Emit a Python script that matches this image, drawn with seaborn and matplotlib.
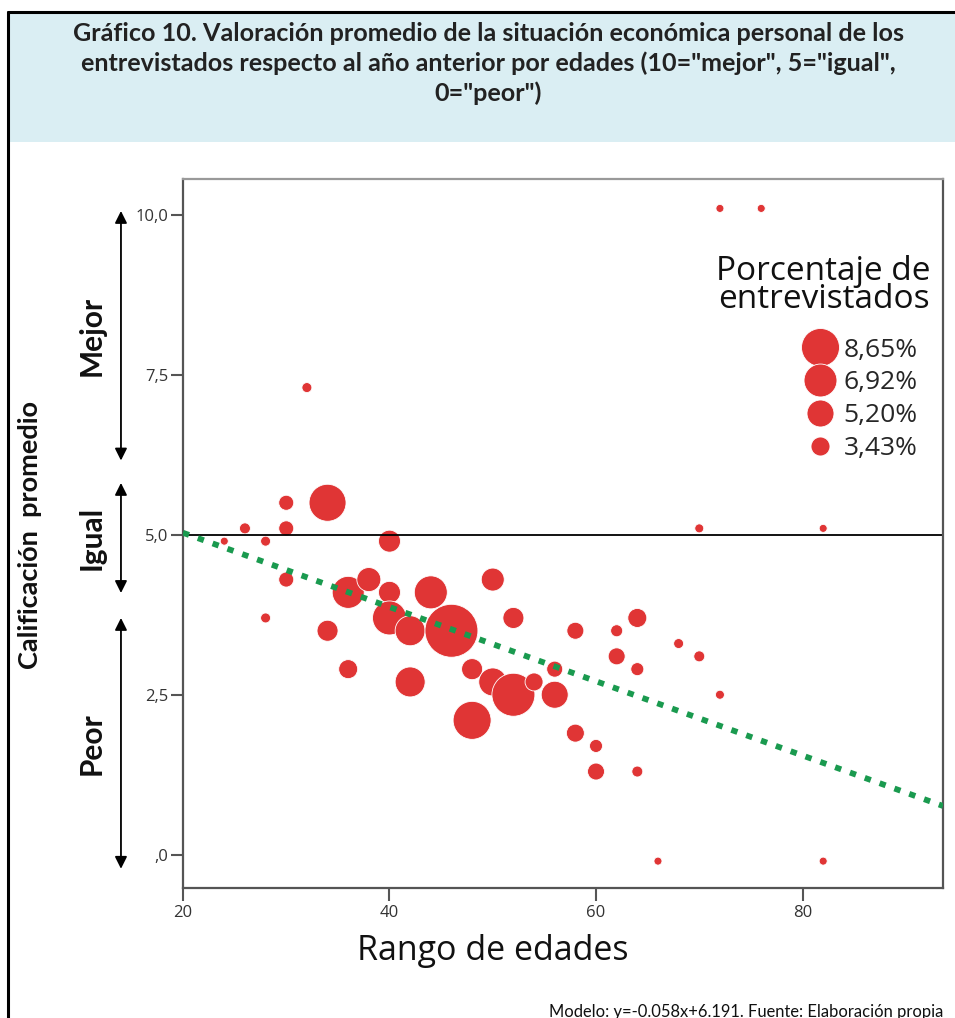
import numpy as np
import pandas as pd
import seaborn as sns
import matplotlib.pyplot as plt
from matplotlib.lines import Line2D
from matplotlib.patches import Rectangle

# datos
edad = [24, 26, 28, 28, 30, 30, 30, 32, 34, 34, 36, 36, 38, 40, 40, 40,
        42, 42, 44, 46, 48, 48, 50, 50, 52, 52, 54, 56, 56, 58, 58, 60,
        60, 62, 62, 64, 64, 64, 66, 68, 70, 70, 72, 72, 76, 82, 82]
calificacion = [4.9, 5.1, 4.9, 3.7, 5.5, 5.1, 4.3, 7.3, 5.5, 3.5, 4.1, 2.9,
                4.3, 4.9, 4.1, 3.7, 3.5, 2.7, 4.1, 3.5, 2.9, 2.1, 4.3, 2.7,
                3.7, 2.5, 2.7, 2.9, 2.5, 3.5, 1.9, 1.7, 1.3, 3.5, 3.1, 3.7,
                2.9, 1.3, -0.1, 3.3, 3.1, 5.1, 2.5, 10.1, 10.1, 5.1, -0.1]
porcentaje = [2.00, 2.27, 2.17, 2.17, 2.78, 2.78, 2.78, 2.17, 8.29, 3.82,
              6.63, 3.43, 4.47, 4.02, 4.02, 7.26, 6.03, 6.03, 6.94, 15.2,
              3.82, 8.65, 4.24, 5.47, 3.82, 10.6, 3.25, 2.93, 5.20, 3.08,
              3.25, 2.51, 3.08, 2.39, 3.08, 3.43, 2.51, 2.27, 2.00, 2.17,
              2.27, 2.08, 2.08, 2.00, 2.00, 2.00, 2.00]

leyenda_pct = [8.65, 6.92, 5.20, 3.43]
leyenda_txt = ["8,65%", "6,92%", "5,20%", "3,43%"]

y_ticks = [0, 2.5, 5, 7.5, 10]
y_ticklabels = [",0", "2,5", "5,0", "7,5", "10,0"]
x_ticks = [20, 40, 60, 80]

tramos = ["Mejor", "Igual", "Peor"]

pendiente = -0.058
intercepto = 6.191

titulo = ('Gráfico 10. Valoración promedio de la situación económica personal de los\n'
          'entrevistados respecto al año anterior por edades (10="mejor", 5="igual",\n'
          '0="peor")')
pie = "Modelo: y=-0.058x+6.191. Fuente: Elaboración propia"

df = pd.DataFrame({"edad": edad, "calificacion": calificacion, "pct": porcentaje})

rojo = "#E03535"
verde = "#1A9A4F"


def area(p):
    # area del marcador (pt^2) segun el porcentaje
    return 0.5184 * (207.5 * p - 351)


sns.set_theme(style="white")
plt.rcParams["font.family"] = ["Open Sans", "DejaVu Sans"]
calibri = ["Lato", "DejaVu Sans"]

fig = plt.figure(figsize=(9.55, 10.18), dpi=100)
ax = fig.add_axes([0.1916, 0.1277, 0.7958, 0.6965])

# caja del titulo y bordes
fig.add_artist(Rectangle((0.0094, 0.8605), 0.9906, 0.1277, transform=fig.transFigure,
                         facecolor="#DAEEF3", edgecolor="none", zorder=0))
fig.add_artist(Line2D([0.0084, 0.0084], [0, 0.9882], color="black", lw=2.2))
fig.add_artist(Line2D([0.0084, 1], [0.9882, 0.9882], color="black", lw=2.2))
fig.text(0.511, 0.938, titulo, ha="center", va="center", fontsize=18.1,
         fontweight="bold", family=calibri, linespacing=1.33, color="#222222")

sns.scatterplot(data=df, x="edad", y="calificacion", size="pct",
                sizes=(area(2.0), area(15.2)), size_norm=(2.0, 15.2),
                color=rojo, edgecolor="white", linewidth=0.6, alpha=1,
                legend=False, ax=ax, zorder=2)

ax.axhline(5, color="black", lw=1.3, zorder=2.5)
ax.axline((0, intercepto), slope=pendiente, color=verde, lw=4.2,
          linestyle=(0, (1.1, 1.6)), zorder=3)

ax.set_xlim(20, 93.6)
ax.set_ylim(-0.52, 10.56)
ax.set_xticks(x_ticks)
ax.set_yticks(y_ticks)
ax.set_yticklabels(y_ticklabels)
ax.tick_params(axis="both", direction="out", length=9, width=1.5, color="#555555",
               labelsize=12, labelcolor="#333333", left=True, bottom=True)
ax.tick_params(axis="y", pad=1.5)
ax.tick_params(axis="x", pad=3)
for lado, sp in ax.spines.items():
    sp.set_color("#555555")
    sp.set_linewidth(1.6)
ax.spines["top"].set_color("#999999")

ax.set_xlabel("Rango de edades", fontsize=24.5, color="#111111")
ax.xaxis.set_label_coords(0.408, -0.089)
ax.xaxis.label.set_va("center")
ax.set_ylabel("Calificación  promedio", fontsize=19.5, fontweight="bold",
              family=calibri, color="#111111")
ax.yaxis.set_label_coords(-0.1855, 0.498)

# flechas de Mejor / Igual / Peor
trans = ax.get_yaxis_transform()
limites = [(10.06, 6.16), (5.81, 4.09), (3.70, -0.22)]
for nombre, (arriba, abajo) in zip(tramos, limites):
    ax.annotate("", xy=(-0.0816, arriba), xytext=(-0.0816, abajo),
                xycoords=trans, textcoords=trans, annotation_clip=False,
                arrowprops=dict(arrowstyle="<|-|>", color="black", lw=1.3,
                                mutation_scale=18, shrinkA=0, shrinkB=0))
    ax.text(-0.1197, (arriba + abajo) / 2, nombre, transform=trans, rotation=90,
            ha="center", va="center", fontsize=21.5, fontweight="bold",
            family=calibri, color="#111111", clip_on=False)

# leyenda de tamanos
ax.text(0.983, 0.893, "Porcentaje de\nentrevistados", transform=ax.transAxes,
        ha="right", va="top", fontsize=24, linespacing=0.82, color="#111111")
handles = [Line2D([], [], marker="o", linestyle="none", markersize=np.sqrt(area(p)),
                  markerfacecolor=rojo, markeredgecolor="white", markeredgewidth=0.6)
           for p in leyenda_pct]
ax.legend(handles, leyenda_txt, loc="upper right", bbox_to_anchor=(0.984, 0.795),
          frameon=False, fontsize=19, handletextpad=0.15, labelspacing=0.3,
          borderpad=0, handlelength=1.5)

fig.text(0.9874, 0.0138, pie, ha="right", va="top", fontsize=11.9,
         family=calibri, color="#111111")

fig.savefig("out.png", dpi=100)
